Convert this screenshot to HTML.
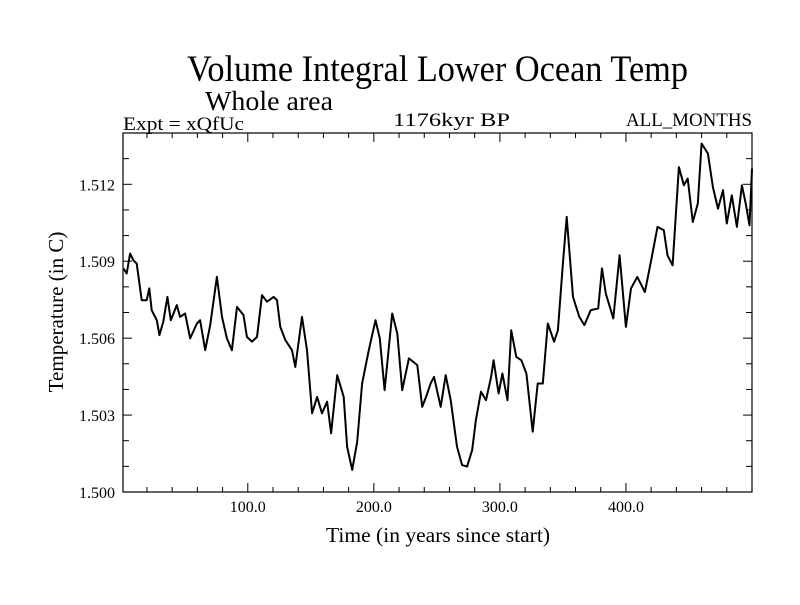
<!DOCTYPE html>
<html><head><meta charset="utf-8"><style>
body{margin:0;background:#fff;}
svg text{font-family:"Liberation Serif",serif;fill:#000;}
</style></head><body>
<svg id="chart" width="800" height="600" xmlns="http://www.w3.org/2000/svg">
<rect width="800" height="600" fill="#fff"/>
<text x="187" y="81" font-size="37" textLength="501" lengthAdjust="spacingAndGlyphs">Volume Integral Lower Ocean Temp</text>
<text x="205" y="110" font-size="27" textLength="128" lengthAdjust="spacingAndGlyphs">Whole area</text>
<text x="123" y="130" font-size="19" textLength="121" lengthAdjust="spacingAndGlyphs">Expt = xQfUc</text>
<text x="393" y="126" font-size="19" textLength="117" lengthAdjust="spacingAndGlyphs">1176kyr BP</text>
<text x="626" y="126" font-size="19" textLength="126" lengthAdjust="spacingAndGlyphs">ALL_MONTHS</text>
<text x="326" y="542" font-size="21" textLength="224" lengthAdjust="spacingAndGlyphs">Time (in years since start)</text>
<text x="0" y="0" font-size="21" text-anchor="middle" transform="translate(63,312) rotate(-90)">Temperature (in C)</text>
<g id="axes"></g>
<path id="series" fill="none" stroke="#000" stroke-width="2" stroke-linejoin="round"/>
</svg>
<script>
const years=[1.3,3.9,6.6,9.2,11.9,15.8,19.8,21.9,23.8,27.8,29.9,33,36.2,38.9,43.7,46.3,50.3,54.3,59.6,62.2,66.2,70.2,75.5,79.5,83.4,87.4,91.4,96.6,99.3,103.3,107.3,111.3,115.2,120.5,123.2,125.8,129.8,135.1,137.7,143,147,151,155,158.9,162.9,166.1,170.9,176.1,178.8,182.8,186.8,190.7,196,201.3,204.7,208.5,214.6,218.6,222.5,227.8,234.5,238.4,241.9,245,247.7,253,257,261,266,270,274,278,281,285,289,293,295,299,302,306,309,313,317,321,326,330,334,338,343,346,350,353,358,363,367,372,378,381,384,390,395,400,404,409,415,420,425,430,433,437,442,446,449,453,457,460,465,469,473,477,480,484,488,492,495,498,500];
const temps=[1.50872,1.50852,1.50930,1.50904,1.50891,1.50748,1.50748,1.50794,1.50709,1.50670,1.50612,1.50664,1.50761,1.50670,1.50729,1.50683,1.50696,1.50599,1.50657,1.50670,1.50553,1.50651,1.50839,1.50683,1.50599,1.50553,1.50722,1.50690,1.50605,1.50586,1.50605,1.50768,1.50742,1.50761,1.50748,1.50644,1.50592,1.50553,1.50488,1.50683,1.50553,1.50307,1.50371,1.50307,1.50352,1.50229,1.50456,1.50371,1.50177,1.50086,1.50196,1.50423,1.50553,1.50670,1.50599,1.50397,1.50696,1.50618,1.50397,1.50521,1.50495,1.50332,1.50378,1.50423,1.50449,1.50332,1.50456,1.50358,1.50177,1.50105,1.50099,1.50164,1.50281,1.50391,1.50358,1.50449,1.50514,1.50384,1.50462,1.50358,1.50631,1.50527,1.50514,1.50462,1.50235,1.50423,1.50423,1.50657,1.50586,1.50631,1.50891,1.51073,1.50761,1.50683,1.50651,1.50709,1.50716,1.50872,1.50774,1.50677,1.50923,1.50644,1.50794,1.50839,1.50780,1.50904,1.51034,1.51021,1.50923,1.50884,1.51267,1.51196,1.51222,1.51053,1.51125,1.51359,1.51320,1.51189,1.51105,1.51177,1.51047,1.51157,1.51034,1.51196,1.51125,1.51040,1.51261];
const yTickLabels=["1.500","1.503","1.506","1.509","1.512"];
const xTickLabels=["100.0","200.0","300.0","400.0"];
const L=123,R=752,T=133,B=492,X0=1,X1=500,Y0=1.500,Y1=1.514;
function xs(v){return L+(v-X0)/(X1-X0)*(R-L);}
function ys(v){return B-(v-Y0)/(Y1-Y0)*(B-T);}
const NS="http://www.w3.org/2000/svg";
const ax=document.getElementById('axes');
function mk(tag,attrs){const e=document.createElementNS(NS,tag);for(const k in attrs)e.setAttribute(k,attrs[k]);ax.appendChild(e);return e;}
const frame=mk('rect',{x:L,y:T,width:R-L,height:B-T,fill:'none',stroke:'#000','stroke-width':1.2});


for(let v=20;v<500;v+=20){
  const x=xs(v),len=(v%100===0)?9:5;
  const t1=mk('line',{x1:x,x2:x,y1:B,y2:B-len,stroke:'#000'});
  
  
  const t2=mk('line',{x1:x,x2:x,y1:T,y2:T+len,stroke:'#000'});
  
  
}
xTickLabels.forEach(s=>{
  const t=mk('text',{x:xs(parseFloat(s)),y:B+20,'font-size':16,'text-anchor':'middle'});
  t.textContent=s;
  
  
});
for(let i=1;i<14;i++){
  const v=Y0+i*0.001,y=ys(v),len=(i%3===0)?9:6;
  const t1=mk('line',{x1:L,x2:L+len,y1:y,y2:y,stroke:'#000'});
  
  
  const t2=mk('line',{x1:R,x2:R-len,y1:y,y2:y,stroke:'#000'});
  
  
}
yTickLabels.forEach(s=>{
  const t=mk('text',{x:L-8,y:ys(parseFloat(s))+6,'font-size':16,'text-anchor':'end'});
  t.textContent=s;
  
  
});
document.getElementById('series').setAttribute('d',years.map((v,i)=>(i?'L':'M')+xs(v).toFixed(1)+' '+ys(temps[i]).toFixed(1)).join(' '));
</script>
</body></html>
